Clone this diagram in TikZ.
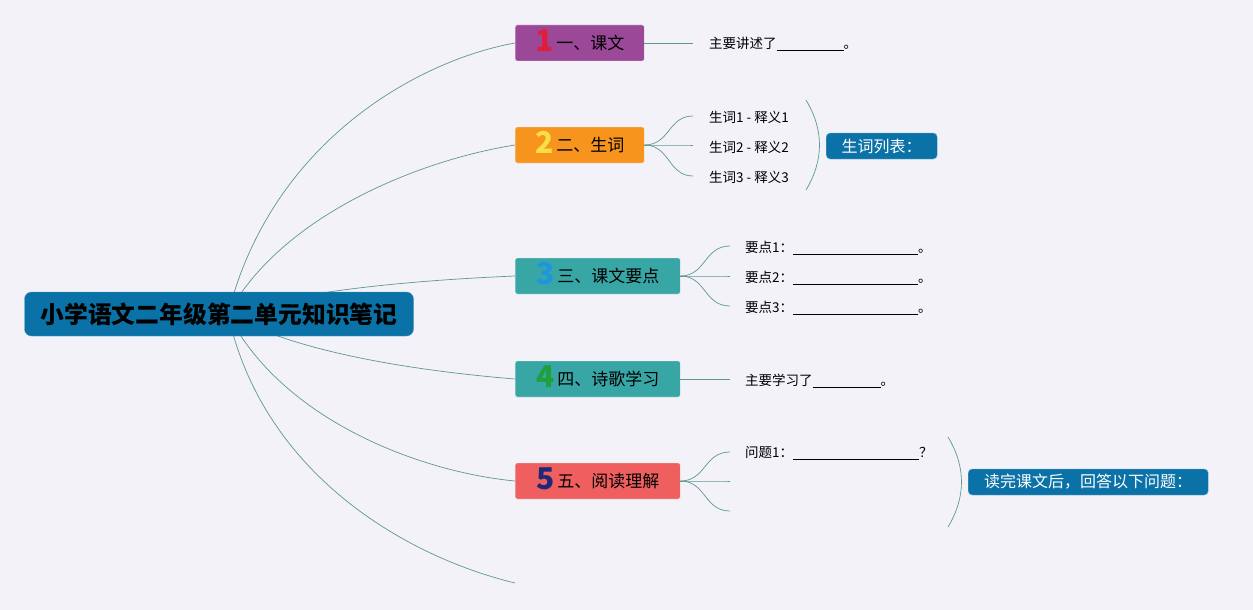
\documentclass[tikz,border=0pt]{standalone}
\usepackage{fontspec}
\setmainfont{Noto Sans CJK SC}
\usepackage{tikz}
\usetikzlibrary{positioning}
\usetikzlibrary{backgrounds}
\definecolor{bgc}{RGB}{242,242,248}
\definecolor{rootc}{RGB}{11,114,168}
\definecolor{linec}{RGB}{96,152,142}
\definecolor{purp}{RGB}{155,72,152}
\definecolor{oran}{RGB}{247,148,30}
\definecolor{teal2}{RGB}{56,166,165}
\definecolor{salm}{RGB}{240,95,95}
\definecolor{numred}{RGB}{222,30,60}
\definecolor{numyel}{RGB}{250,222,70}
\definecolor{numblu}{RGB}{30,150,222}
\definecolor{numgrn}{RGB}{30,160,60}
\definecolor{numnav}{RGB}{30,40,120}
\newcommand{\blank}[1]{\rule[-1.5pt]{#1pt}{0.7pt}}
\newcommand{\bignum}[2]{\smash{\raisebox{-2pt}{\fontsize{30}{30}\selectfont\bfseries\color{#1}#2}}\,}
\tikzstyle{rootbox}=[rectangle, rounded corners=7pt, fill=rootc, draw=rootc!70!white,
  minimum width=389pt, minimum height=44pt, inner sep=0pt,
  font=\fontsize{23.8}{24}\selectfont\bfseries]
\tikzstyle{branch}=[rectangle, rounded corners=2pt, draw=white!60!black!20,
  minimum height=36pt, inner sep=0pt, anchor=west,
  font=\fontsize{17}{17}\selectfont]
\tikzstyle{leaf}=[inner sep=0pt, anchor=west, font=\fontsize{13.5}{13.5}\selectfont]
\tikzstyle{label}=[rectangle, rounded corners=4pt, fill=rootc, draw=rootc!60!white,
  text=white, minimum height=26pt, inner sep=0pt, anchor=west,
  font=\fontsize{16}{16}\selectfont]
\tikzstyle{link}=[draw=linec, line width=0.7pt]
\begin{document}
\begin{tikzpicture}[x=1pt, y=-1pt]
\useasboundingbox (0,0) rectangle (1253,610);

\node[rootbox] (root) at (219,314) {小学语文二年级第二单元知识笔记};
\coordinate (hub) at (228,314);

\node[branch, fill=purp, minimum width=129pt] (kewen) at (515,43)
  {\bignum{numred}{1}一、课文};
\node[branch, fill=oran, minimum width=129pt] (shengci) at (515,145)
  {\bignum{numyel}{2}二、生词};
\node[branch, fill=teal2, minimum width=165pt] (yaodian) at (515,276)
  {\bignum{numblu}{3}三、课文要点};
\node[branch, fill=teal2, minimum width=165pt] (shige) at (515,379)
  {\bignum{numgrn}{4}四、诗歌学习};
\node[branch, fill=salm, minimum width=165pt] (yuedu) at (515,481)
  {\bignum{numnav}{5}五、阅读理解};
\coordinate (loose) at (515,583);

% leaves
\node[leaf] (kewenleaf) at (709,44) {主要讲述了\blank{67}。};
\node[leaf] (sc1) at (709,117) {生词1 - 释义1};
\node[leaf] (sc2) at (709,147) {生词2 - 释义2};
\node[leaf] (sc3) at (709,177) {生词3 - 释义3};
\node[label, minimum width=111pt] (sclabel) at (826,146) {生词列表：};
\node[leaf] (yd1) at (745,248) {要点1：\blank{125}。};
\node[leaf] (yd2) at (745,278) {要点2：\blank{125}。};
\node[leaf] (yd3) at (745,308) {要点3：\blank{125}。};
\node[leaf] (shigeleaf) at (745,381) {主要学习了\blank{68}。};
\node[leaf] (wt1) at (745,453) {问题1：\blank{126}？};
\node[label, minimum width=240pt] (ydlabel) at (968,482) {读完课文后，回答以下问题：};

\coordinate (sca) at (693,116);
\coordinate (scb) at (693,145);
\coordinate (scc) at (693,176);
\coordinate (yda) at (730,246);
\coordinate (ydb) at (730,276);
\coordinate (ydc) at (730,306);
\coordinate (wta) at (730,452);
\coordinate (wtb) at (730,481);
\coordinate (wtc) at (730,511);
\coordinate (kwend) at (693,43);
\coordinate (sgend) at (730,379);
\coordinate (bra) at (806,100);
\coordinate (brb) at (806,190);
\coordinate (brc) at (948,437);
\coordinate (brd) at (948,527);

\begin{scope}[on background layer]
\fill[bgc] (0,0) rectangle (1253,610);
\draw[link] (hub) .. controls (272,140) and (420,60) .. (kewen.west);
\draw[link] (hub) .. controls (282,215) and (420,160) .. (shengci.west);
\draw[link] (hub) .. controls (300,290) and (420,280) .. (yaodian.west);
\draw[link] (hub) .. controls (300,355) and (430,372) .. (shige.west);
\draw[link] (hub) .. controls (282,420) and (420,472) .. (yuedu.west);
\draw[link] (hub) .. controls (262,470) and (400,555) .. (loose);
\end{scope}

\draw[link] (kewen.east) -- (kwend);
\foreach \t in {sca,scb,scc}
  \draw[link] (shengci.east) .. controls (670,145) and (668,0|-\t) .. (\t);
\foreach \t in {yda,ydb,ydc}
  \draw[link] (yaodian.east) .. controls (706,276) and (704,0|-\t) .. (\t);
\draw[link] (shige.east) -- (sgend);
\foreach \t in {wta,wtb,wtc}
  \draw[link] (yuedu.east) .. controls (706,481) and (704,0|-\t) .. (\t);

\draw[link] (bra) .. controls (824,130) and (824,160) .. (brb);
\draw[link] (brc) .. controls (966,467) and (966,497) .. (brd);

\end{tikzpicture}
\end{document}
